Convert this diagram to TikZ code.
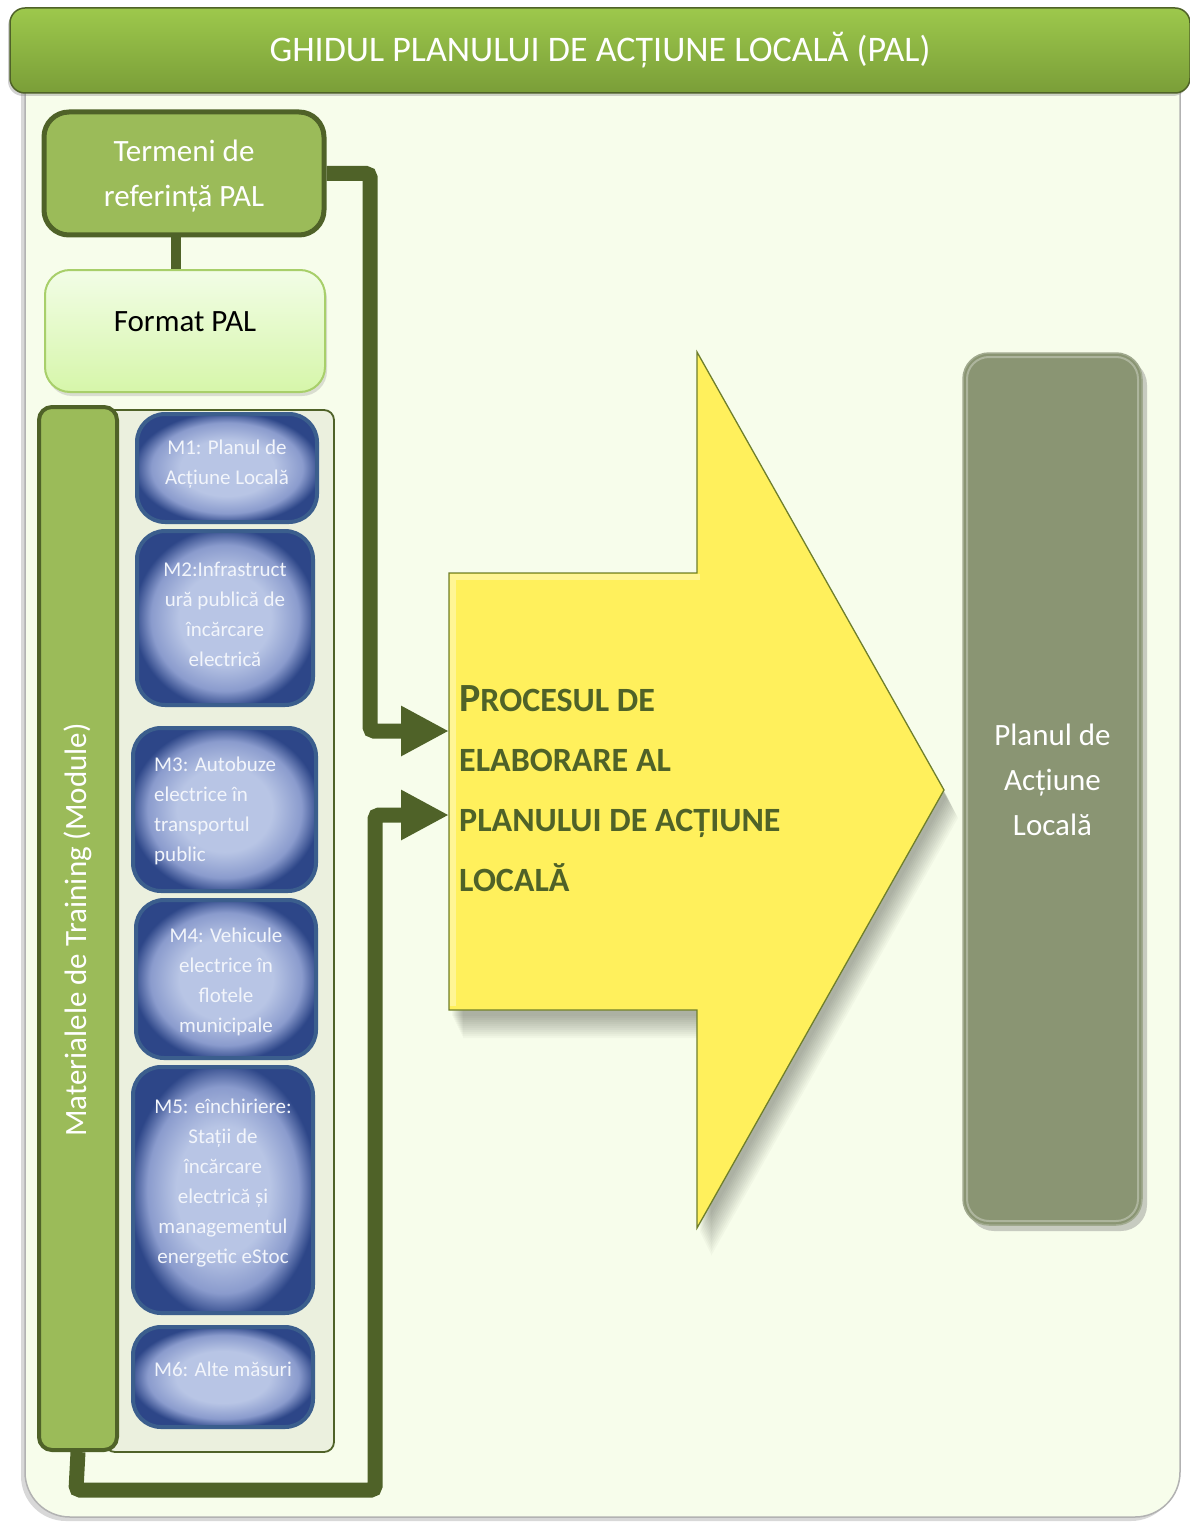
\documentclass[tikz,border=0pt]{standalone}
\usepackage{fontspec}
\setmainfont{Carlito}
\usetikzlibrary{arrows.meta,shadows}
\definecolor{darkg}{HTML}{4F6228}
\definecolor{midg}{HTML}{9BBB59}
\definecolor{panelbg}{HTML}{F7FDEB}
\definecolor{contbg}{HTML}{EBF0DE}
\definecolor{tgTop}{HTML}{9DC84C}
\definecolor{tgBot}{HTML}{7A9E38}
\definecolor{fmtTop}{HTML}{F2FDE6}
\definecolor{fmtBot}{HTML}{D6F6AA}
\definecolor{fmtLine}{HTML}{A8CF6A}
\definecolor{mbL}{HTML}{B8C5E5}
\definecolor{mbM}{HTML}{8A9BCD}
\definecolor{mbD}{HTML}{2D4688}
\definecolor{mbLine}{HTML}{3B5E8D}
\definecolor{mtext}{HTML}{F2F5FB}
\definecolor{yel}{HTML}{FFF05C}
\definecolor{yelLine}{HTML}{6F7F2C}
\definecolor{planfill}{HTML}{8A9573}
\definecolor{proctext}{HTML}{4F6228}
\pgfdeclareradialshading{mblue}{\pgfpoint{0bp}{0bp}}{color(0bp)=(mbL); color(13bp)=(mbL); color(21bp)=(mbM); color(26bp)=(mbD); color(50bp)=(mbD)}
\newcommand\pcap[1]{{\fontsize{34}{60}\selectfont #1}}
\begin{document}
\begin{tikzpicture}[x=1pt,y=-1pt,
  titlebar/.style={draw=darkg, line width=1.5pt, rounded corners=15pt, top color=tgTop, bottom color=tgBot,
    minimum width=1180pt, minimum height=85pt, inner sep=0pt,
    drop shadow={shadow xshift=-2pt, shadow yshift=-3pt, opacity=.35},
    text=white, font=\fontsize{36}{40}\selectfont},
  termbox/.style={draw=darkg, line width=5pt, rounded corners=25pt, fill=midg, minimum width=280pt, minimum height=123pt,
    inner sep=0pt},
  termtxt/.style={inner sep=0pt, align=center, text=white, font=\fontsize{31}{45}\selectfont},
  fmtbox/.style={draw=fmtLine, line width=2pt, rounded corners=25pt, top color=fmtTop, bottom color=fmtBot,
    minimum width=280pt, minimum height=122pt, inner sep=0pt,
    drop shadow={shadow xshift=2pt, shadow yshift=-4pt, opacity=.25}},
  contbox/.style={draw=darkg, line width=1.8pt, rounded corners=10pt, fill=contbg, minimum width=229pt, minimum height=1042pt, inner sep=0pt},
  tabbox/.style={draw=darkg, line width=4pt, rounded corners=13pt, fill=midg, minimum width=78pt, minimum height=1043pt, inner sep=0pt},
  mbox/.style={draw=mbLine, line width=4pt, rounded corners=28pt, shading=mblue, inner sep=0pt},
  mtxt/.style={text=mtext, align=center, inner sep=0pt, font=\fontsize{21}{30}\selectfont},
  conn/.style={draw=darkg, line width=15pt, rounded corners=4pt},
  thinconn/.style={draw=darkg, line width=10pt},
  tip/.style={-{Triangle[length=48pt,width=47pt]}},
  planbox/.style={fill=planfill, draw=planfill!80!white, line width=1.5pt, rounded corners=26pt, minimum width=179pt, minimum height=872pt, inner sep=0pt,
    drop shadow={shadow xshift=5pt, shadow yshift=-6pt, opacity=.4}},
  whitetxt/.style={text=white, align=center, inner sep=0pt, font=\fontsize{31}{45}\selectfont}
]
\useasboundingbox (0,0) rectangle (1190,1522);
\fill[white] (0,0) rectangle (1190,1522);
% main panel
\path[fill=panelbg, draw=gray!60, line width=1.5pt, rounded corners=45pt,
  drop shadow={shadow xshift=-4pt, shadow yshift=-4pt, opacity=.3}] (25,40) rectangle (1180,1517);
% title
\node[titlebar] (title) at (600,50.5) {GHIDUL PLANULUI DE ACȚIUNE LOCALĂ (PAL)};
% left column
\node[termbox] (termeni) at (184,173.5) {};
\node[termtxt] (termenitxt) at (184,176.5) {Termeni de\\referință PAL};
\draw[thinconn] ([xshift=-8pt]termeni.south) -- (176,271);
\node[fmtbox] (format) at (185,331) {};
\node[inner sep=0pt, font=\fontsize{31}{45}\selectfont] (formattxt) at ([yshift=9pt]format.center) {Format PAL};
\node[contbox] (cont) at (219.5,931) {};
\node[tabbox] (mat) at (78,928.5) {};
\node[rotate=90, text=white, inner sep=0pt, font=\fontsize{31}{40}\selectfont] (mattxt) at (78,930) {Materialele de Training (Module)};
% module boxes
\node[mbox, minimum width=180pt, minimum height=108pt] (m1) at (227,468) {};
\node[mbox, minimum width=176pt, minimum height=174pt] (m2) at (225,618) {};
\node[mbox, minimum width=183pt, minimum height=163pt] (m3) at (224.5,809.5) {};
\node[mbox, minimum width=180pt, minimum height=158pt] (m4) at (226,979) {};
\node[mbox, minimum width=180pt, minimum height=246pt] (m5) at (223,1190) {};
\node[mbox, minimum width=180pt, minimum height=100pt] (m6) at (223,1377) {};
\node[mtxt] (m1t) at (227,464) {M1: Planul de\\Acțiune Locală};
\node[mtxt] (m2t) at (225,614) {M2:Infrastruct\\ură publică de\\încărcare\\electrică};
\node[mtxt, align=left, anchor=west] (m3t) at (154,810.5) {M3: Autobuze\\electrice în\\transportul\\public};
\node[mtxt] (m4t) at (226,982) {M4: Vehicule\\electrice în\\flotele\\municipale};
\node[mtxt] (m5t) at (223,1183) {M5: eînchiriere:\\Stații de\\încărcare\\electrică și\\managementul\\energetic eStoc};
\node[mtxt] (m6t) at (223,1369) {M6: Alte măsuri};
% big arrow shadow
\foreach \s in {2,4,...,24}
  \fill[black, opacity=0.028, shift={(0.5*\s+2,\s+4)}]
    (449,573) -- (697,573) -- (697,352) -- (944,790) -- (697,1228) -- (697,1010) -- (449,1010) -- cycle;
% big arrow
\path[fill=yel, draw=yelLine, line width=1.3pt, line join=miter]
  (449,573) -- (697,573) -- (697,352) -- (944,790) -- (697,1228) -- (697,1010) -- (449,1010) -- cycle;
\draw[white, opacity=.35, line width=6pt] (453,1006) -- (453,577) -- (700,577);
\coordinate (in1) at (449,731);
\coordinate (in2) at (449,815);
\node[anchor=north west, align=left, inner sep=0pt, text=proctext, font=\bfseries\fontsize{34}{60}\selectfont] (proc) at (459,685)
  {{\fontsize{40}{60}\selectfont P}\pcap{ROCESUL DE}\\\pcap{ELABORARE AL}\\\pcap{PLANULUI DE ACȚIUNE}\\\pcap{LOCALĂ}};
% connectors
\draw[conn, tip] (termeni.east) -- (370,173.5) |- (in1);
\draw[conn, tip] (mat.south) -- (76,1490) -- (375,1490) |- (in2);
% result box
\node[planbox] (plan) at (1052.5,789) {};
\draw[white, opacity=.3, line width=2pt, rounded corners=22pt] (967,357) rectangle (1138,1221);
\node[whitetxt] (plant) at (1052.5,780) {Planul de\\Acțiune\\Locală};
\end{tikzpicture}
\end{document}
